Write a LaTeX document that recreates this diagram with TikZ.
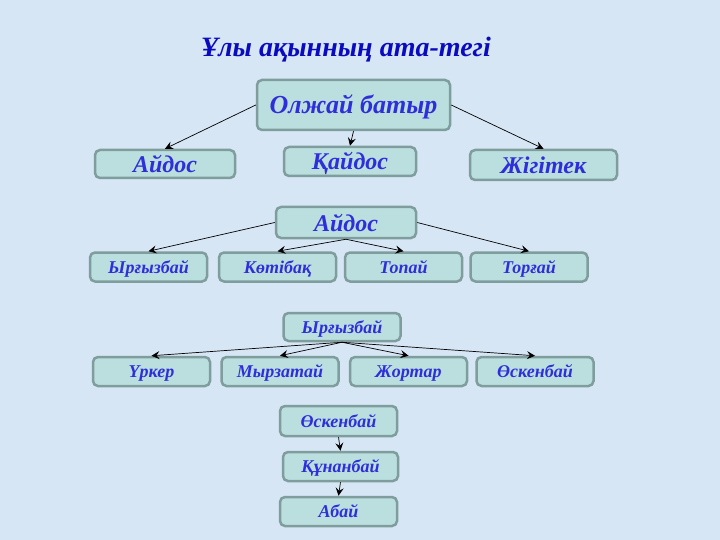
\documentclass[tikz,border=0pt]{standalone}
\usepackage{fontspec}
\setmainfont{Liberation Serif}
\usetikzlibrary{arrows.meta}
\definecolor{bgblue}{HTML}{D6E6F4}
\definecolor{boxfill}{HTML}{BBDFDF}
\definecolor{boxline}{HTML}{7F9D9D}
\definecolor{txtblue}{HTML}{2E2EDB}
\definecolor{titleblue}{HTML}{0A0AC0}

\begin{document}
\begin{tikzpicture}[x=1pt,y=-1pt,
  box/.style={draw=boxline, line width=2.5pt, fill=boxfill, rounded corners=5pt, text=txtblue, inner sep=0pt},
  big/.style={box, font=\fontsize{24}{26}\selectfont\bfseries\itshape, text height=18pt, text depth=1pt},
  small/.style={box, font=\fontsize{18}{20}\selectfont\bfseries\itshape, text height=14pt, text depth=2pt, minimum width=117pt, minimum height=29pt},
  link/.style={-{Stealth[length=8pt,width=8pt,inset=3pt]}, line width=0.7pt}]
\fill[bgblue] (0,0) rectangle (720,540);
\node[text=titleblue, font=\fontsize{28}{30}\selectfont\bfseries\itshape] (title) at (346,50) {Ұлы ақынның ата-тегі};
% first generation
\node[big, font=\fontsize{26}{28}\selectfont\bfseries\itshape, minimum width=193pt, minimum height=50pt] (olzhai) at (353.5,105) {Олжай батыр};
\node[big, minimum width=140pt, minimum height=28pt] (aidosA) at (165,164) {Айдос};
\node[big, minimum width=132pt, minimum height=29pt] (qaidos) at (350,161.5) {Қайдос};
\node[big, minimum width=147pt, minimum height=30pt] (zhigitek) at (543.5,165) {Жігітек};
\draw[link] (olzhai.west) -- (aidosA.north);
\draw[link] (olzhai.south) -- (qaidos.north);
\draw[link] (olzhai.east) -- (zhigitek.north);
% Aidos
\node[big, minimum width=140pt, minimum height=31pt] (aidosB) at (346,222.5) {Айдос};
\node[small] (yrgyzA) at (148.5,267) {Ырғызбай};
\node[small] (kotibaq) at (277.5,267) {Көтібақ};
\node[small] (topai) at (403.5,267) {Топай};
\node[small] (torgai) at (529,267) {Торғай};
\draw[link] (aidosB.west) -- (yrgyzA.north);
\draw[link] (aidosB.south) -- (kotibaq.north);
\draw[link] (aidosB.south) -- (topai.north);
\draw[link] (aidosB.east) -- (torgai.north);
% Yrgyzbai
\node[small, minimum height=28pt] (yrgyzB) at (342,327) {Ырғызбай};
\node[small] (urker) at (151.5,371.5) {Үркер};
\node[small] (myrzatai) at (280,371.5) {Мырзатай};
\node[small] (zhortar) at (408.5,371.5) {Жортар};
\node[small] (oskenA) at (535,371.5) {Өскенбай};
\foreach \n in {urker,myrzatai,zhortar,oskenA}
  \draw[link] (yrgyzB.south) -- (\n.north);
% down to Abai
\node[small, minimum height=30pt] (oskenB) at (338.5,421) {Өскенбай};
\node[small, minimum width=115pt] (qunanbai) at (340.5,466.5) {Құнанбай};
\node[small] (abai) at (338.5,511.5) {Абай};
\draw[link] (oskenB.south) -- (qunanbai.north);
\draw[link] (qunanbai.south) -- (abai.north);
\end{tikzpicture}
\end{document}
